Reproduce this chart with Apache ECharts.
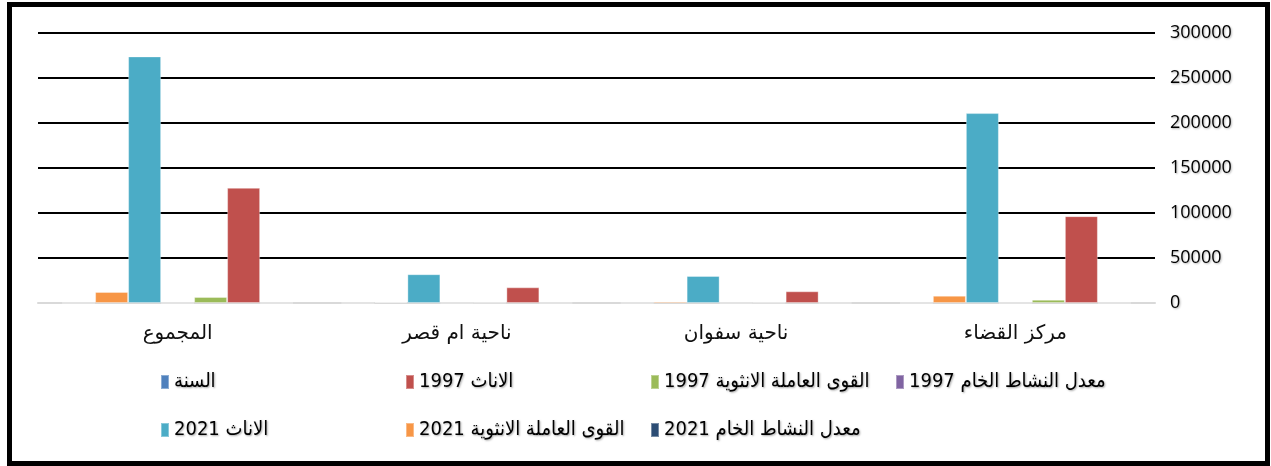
<!DOCTYPE html>
<html>
<head>
<meta charset="utf-8">
<title>chart</title>
<script src="https://cdn.jsdelivr.net/npm/echarts@6/dist/echarts.min.js"></script>
<style>
  html, body { margin: 0; padding: 0; background: #fff; }
  #main { width: 1271px; height: 466px; }
</style>
</head>
<body>
<div id="main"></div>
<script>
// categories (right to left, as in the sheet)
var categories = ["مركز القضاء", "ناحية سفوان", "ناحية ام قصر", "المجموع"];

// series values
var year = [0, 0, 0, 0];
var females1997 = [96500, 13000, 17400, 128000];
var labour1997 = [3700, 400, 350, 6700];
var rate1997 = [0, 0, 0, 0];
var females2021 = [211000, 30000, 32000, 274000];
var labour2021 = [8100, 1800, 1100, 12300];
var rate2021 = [0, 0, 0, 0];

var yTicks = [0, 50000, 100000, 150000, 200000, 250000, 300000];

var seriesList = [
  { name: "السنة", data: year, color: "#4F81BD" },
  { name: "1997 الاناث", data: females1997, color: "#C0504D" },
  { name: "1997 القوى العاملة الانثوية", data: labour1997, color: "#9BBB59" },
  { name: "1997 معدل النشاط الخام", data: rate1997, color: "#8064A2" },
  { name: "2021 الاناث", data: females2021, color: "#4BACC6" },
  { name: "2021 القوى العاملة الانثوية", data: labour2021, color: "#F79646" },
  { name: "2021 معدل النشاط الخام", data: rate2021, color: "#2C4D75" }
];

// legend slots: 4 on the first row, 3 on the second
var legendPos = [
  [160, 371], [405, 371], [650, 371], [895, 371],
  [160, 419], [405, 419], [650, 419]
];

var chart = echarts.init(document.getElementById("main"));

var txt = {
  color: "#000",
  fontSize: 20,
  lineHeight: 22,
  fontFamily: "DejaVu Sans Condensed",
  textShadowColor: "rgba(0,0,0,0.35)",
  textShadowBlur: 2,
  textShadowOffsetX: 1,
  textShadowOffsetY: 1
};

// draw the year and the words as separate pieces so the year stays on the left
function legendText(name) {
  var m = name.match(/^(\d{4}) (.*)$/);
  if (!m) return "{a|" + name + "}";
  return "{y|" + m[1] + " }{a|" + m[2] + "}";
}

var legends = seriesList.map(function (s, i) {
  return {
    data: [s.name],
    left: legendPos[i][0],
    top: legendPos[i][1],
    padding: 0,
    itemWidth: 8,
    itemHeight: 14,
    itemGap: 0,
    icon: "rect",
    selectedMode: false,
    formatter: legendText,
    textStyle: Object.assign({}, txt, {
      rich: { y: txt, a: txt }
    })
  };
});

var option = {
  backgroundColor: "#fff",
  animation: false,
  grid: {
    left: 38,
    right: 116,
    top: 33,
    bottom: 163
  },
  legend: legends,
  xAxis: {
    type: "category",
    inverse: true,
    data: categories,
    axisTick: { show: false },
    axisLine: {
      show: true,
      lineStyle: { color: "#d9d9d9", width: 2 }
    },
    axisLabel: {
      color: "#111",
      fontSize: 20,
      margin: 21,
      fontFamily: "DejaVu Sans"
    }
  },
  yAxis: {
    type: "value",
    position: "right",
    min: 0,
    max: 300000,
    interval: 50000,
    axisLine: { show: false },
    axisTick: { show: false },
    splitLine: {
      show: true,
      lineStyle: {
        color: ["#d9d9d9", "#000", "#000", "#000", "#000", "#000", "#000"],
        width: 2
      }
    },
    axisLabel: {
      color: "#000",
      fontSize: 18,
      margin: 15,
      fontFamily: "Open Sans",
      textShadowColor: "rgba(0,0,0,0.3)",
      textShadowBlur: 2,
      textShadowOffsetX: 1,
      textShadowOffsetY: 1,
      formatter: function (v) {
        return yTicks.indexOf(v) >= 0 ? String(v) : "";
      }
    }
  },
  // bars go left to right in pixel space, so the last series is fed first
  series: seriesList.slice().reverse().map(function (s) {
    return {
      name: s.name,
      type: "bar",
      data: s.data,
      barWidth: 33,
      barGap: "0%",
      itemStyle: {
        color: s.color,
        borderColor: "rgba(255,255,255,0.35)",
        borderWidth: 1
      }
    };
  }),
  graphic: [
    {
      type: "rect",
      silent: true,
      shape: { x: 9.5, y: 4.5, width: 1258, height: 459 },
      style: { fill: null, stroke: "#000", lineWidth: 5 },
      z: 100
    }
  ]
};

chart.setOption(option);
</script>
</body>
</html>
